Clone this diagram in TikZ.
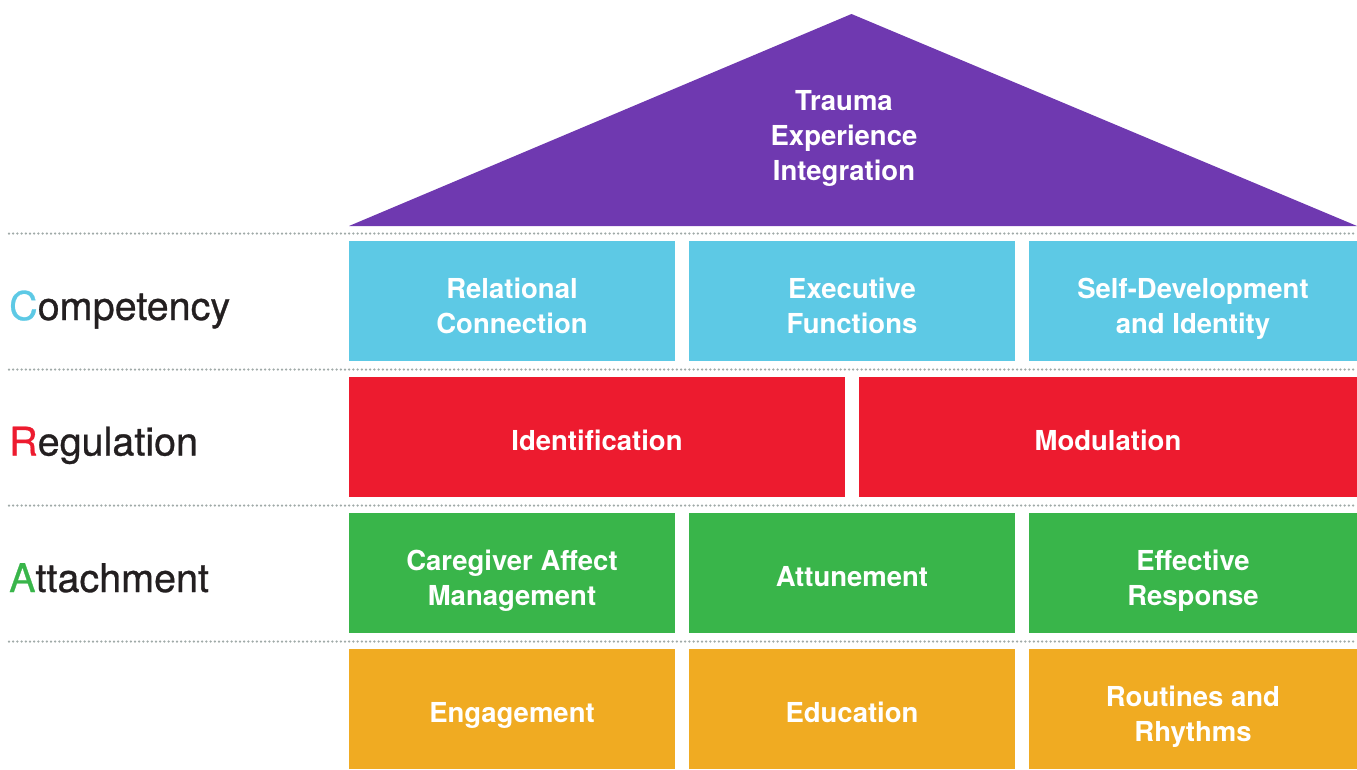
\documentclass[tikz,border=0pt]{standalone}
\usepackage{fontspec}
\setmainfont{TeX Gyre Heros}
\newfontfamily\sidefont[FakeBold=0.7]{TeX Gyre Heros}
\definecolor{cPurple}{HTML}{6F39B0}
\definecolor{cCyan}{HTML}{5DC9E5}
\definecolor{cRed}{HTML}{ED1B2F}
\definecolor{cGreen}{HTML}{39B54A}
\definecolor{cOrange}{HTML}{F0AB22}
\definecolor{cText}{HTML}{231F20}
\definecolor{cDots}{HTML}{A0AAA8}
\newcommand{\twol}[2]{\begin{tabular}[t]{@{}c@{}}#1\\#2\end{tabular}}
\begin{document}
\begin{tikzpicture}[x=1pt,y=-1pt,
  blk/.style={draw=none,inner sep=0pt,outer sep=0pt,anchor=north west},
  lbl/.style={text=white,inner sep=0pt,anchor=base,font=\fontsize{27.5}{34.5}\selectfont\bfseries},
  side/.style={text=cText,inner sep=0pt,anchor=base west,font=\fontsize{39.5}{44}\selectfont\sidefont},
  sep/.style={draw=cDots,line width=2.5pt,line cap=round,dash pattern=on 0pt off 4.2pt}]
\useasboundingbox (0,0) rectangle (1357,769);
% roof
\fill[cPurple] (349,226) -- (851.5,14) -- (1357,226) -- cycle;
\node[lbl] (t1) at (844,110) {Trauma};
\node[lbl] (t2) at (844,145) {Experience};
\node[lbl] (t3) at (844,180) {Integration};
% separators
\coordinate (s1a) at (9,233.5); \coordinate (s1b) at (1357,233.5);
\coordinate (s2a) at (9,369.5); \coordinate (s2b) at (1357,369.5);
\coordinate (s3a) at (9,505.5); \coordinate (s3b) at (1357,505.5);
\coordinate (s4a) at (9,641.5); \coordinate (s4b) at (1357,641.5);
\draw[sep] (s1a) -- (s1b);
\draw[sep] (s2a) -- (s2b);
\draw[sep] (s3a) -- (s3b);
\draw[sep] (s4a) -- (s4b);
% competency row
\node[blk,fill=cCyan,minimum width=326pt,minimum height=120pt] (c1) at (349,241) {};
\node[blk,fill=cCyan,minimum width=326pt,minimum height=120pt] (c2) at (689,241) {};
\node[blk,fill=cCyan,minimum width=328pt,minimum height=120pt] (c3) at (1029,241) {};
\node[lbl] at ([yshift=2.5pt]c1.center) {\twol{Relational}{Connection}};
\node[lbl] at ([yshift=2.5pt]c2.center) {\twol{Executive}{Functions}};
\node[lbl] at ([yshift=2.5pt]c3.center) {\twol{Self-Development}{and Identity}};
% regulation row
\node[blk,fill=cRed,minimum width=496pt,minimum height=120pt] (r1) at (349,377) {};
\node[blk,fill=cRed,minimum width=498pt,minimum height=120pt] (r2) at (859,377) {};
\node[lbl] at ([yshift=-13.5pt]r1.center) {Identification};
\node[lbl] at ([yshift=-13.5pt]r2.center) {Modulation};
% attachment row
\node[blk,fill=cGreen,minimum width=326pt,minimum height=120pt] (a1) at (349,513) {};
\node[blk,fill=cGreen,minimum width=326pt,minimum height=120pt] (a2) at (689,513) {};
\node[blk,fill=cGreen,minimum width=328pt,minimum height=120pt] (a3) at (1029,513) {};
\node[lbl] at ([yshift=2.5pt]a1.center) {\twol{Caregiver Affect}{Management}};
\node[lbl] at ([yshift=-13.5pt]a2.center) {Attunement};
\node[lbl] at ([yshift=2.5pt]a3.center) {\twol{Effective}{Response}};
% foundation row
\node[blk,fill=cOrange,minimum width=326pt,minimum height=120pt] (f1) at (349,649) {};
\node[blk,fill=cOrange,minimum width=326pt,minimum height=120pt] (f2) at (689,649) {};
\node[blk,fill=cOrange,minimum width=328pt,minimum height=120pt] (f3) at (1029,649) {};
\node[lbl] at ([yshift=-13.5pt]f1.center) {Engagement};
\node[lbl] at ([yshift=-13.5pt]f2.center) {Education};
\node[lbl] at ([yshift=2.5pt]f3.center) {\twol{Routines and}{Rhythms}};
% side labels
\node[side] (lc) at (9,320) {\textcolor{cCyan}{C}ompetency};
\node[side] (lr) at (9,455.5) {\textcolor{cRed}{R}egulation};
\node[side] (la) at (9,592) {\textcolor{cGreen}{A}ttachment};
\end{tikzpicture}
\end{document}
